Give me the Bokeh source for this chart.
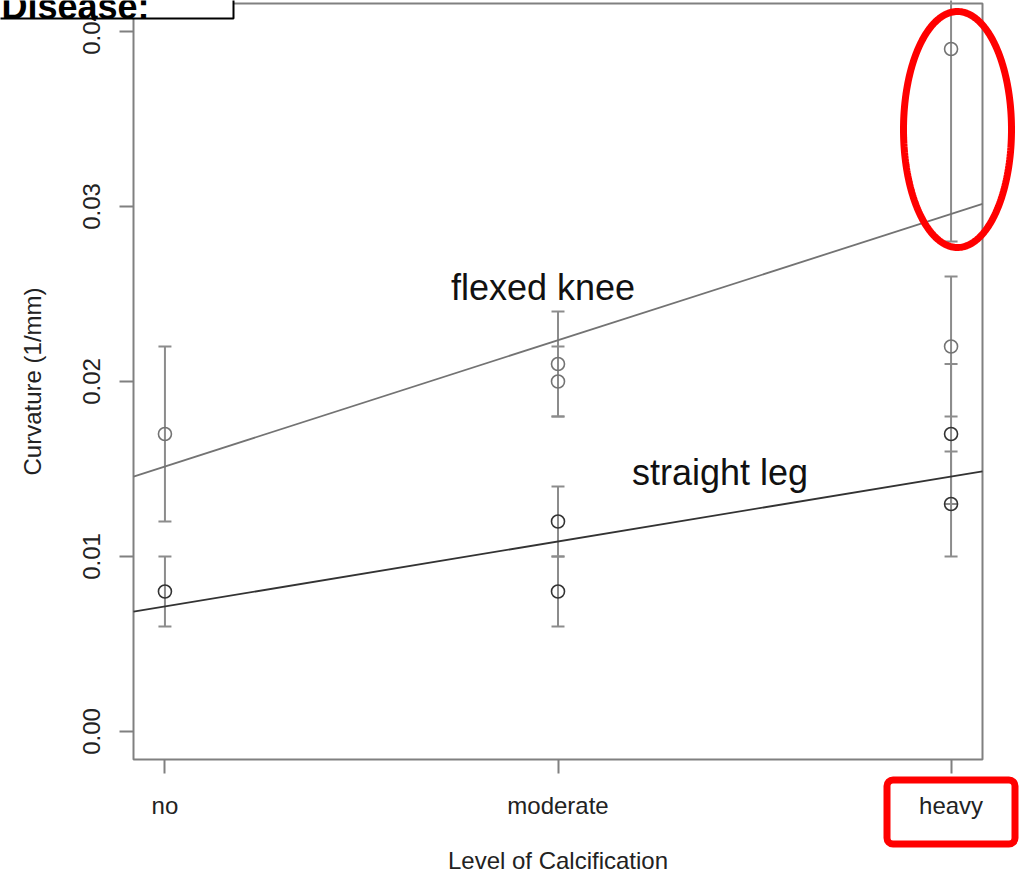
import numpy as np
from bokeh.plotting import figure
from bokeh.models import (Range1d, FixedTicker, PrintfTickFormatter, Label,
                          BoxAnnotation, PolyAnnotation, LinearAxis)
from bokeh.embed import file_html
from bokeh.resources import INLINE

# ---------------- data ----------------
categories = ["no", "moderate", "heavy"]
cat_pos = [1, 2, 3]

flexed_x = [1, 2, 2, 3, 3]
flexed_y = [0.017, 0.021, 0.020, 0.039, 0.022]
flexed_lo = [0.012, 0.018, 0.018, 0.028, 0.018]
flexed_hi = [0.022, 0.024, 0.022, 0.050, 0.026]

straight_x = [1, 2, 2, 3, 3]
straight_y = [0.008, 0.012, 0.008, 0.017, 0.013]
straight_lo = [0.006, 0.010, 0.006, 0.013, 0.010]
straight_hi = [0.010, 0.014, 0.010, 0.021, 0.016]

y_ticks = [0.00, 0.01, 0.02, 0.03, 0.04]
y_lim = (0.0, 0.040)
x_lim = (1, 3)

# ---------------- styles ----------------
FONT = "Liberation Sans"
GRAY_BAR = "#8c8c8c"
GRAY_FLEX = "#737373"
DARK_STR = "#333333"
BOX_GRAY = "#808080"
TXT = "#222222"
W, H = 1019, 873
BOX_LEFT, BOX_RIGHT, BOX_TOP, BOX_BOTTOM = 133, 982, 3, 759   # plot box in canvas px

# R-style 4% range extension -> the plot box's data limits
def ext(lo, hi, f=0.04):
    d = (hi - lo) * f
    return lo - d, hi + d

bx0, bx1 = ext(*x_lim)
by0, by1 = ext(*y_lim)
# data per pixel, so the whole canvas becomes the drawing frame
sx = (bx1 - bx0) / (BOX_RIGHT - BOX_LEFT)
sy = (by1 - by0) / (BOX_BOTTOM - BOX_TOP)
cx0 = bx0 - BOX_LEFT * sx
cx1 = bx1 + (W - BOX_RIGHT) * sx
cy1 = by1 + BOX_TOP * sy
cy0 = by0 - (H - BOX_BOTTOM) * sy

p = figure(width=W, height=H, output_backend="svg", toolbar_location=None,
           x_range=Range1d(cx0, cx1), y_range=Range1d(cy0, cy1),
           x_axis_location=None, y_axis_location=None,
           min_border=0, min_border_left=0, min_border_right=0,
           min_border_top=0, min_border_bottom=0)
p.background_fill_color = "white"
p.border_fill_color = "white"
p.outline_line_color = None
p.xgrid.visible = False
p.ygrid.visible = False

# axes at the edges of the plot box
xaxis = LinearAxis(fixed_location=by0, bounds=(bx0, bx1), ticker=FixedTicker(ticks=cat_pos),
                   major_label_overrides={pos: lab for pos, lab in zip(cat_pos, categories)},
                   axis_label="Level of Calcification")
yaxis = LinearAxis(fixed_location=bx0, bounds=(by0, by1), ticker=FixedTicker(ticks=y_ticks),
                   formatter=PrintfTickFormatter(format="%.2f"),
                   major_label_orientation="vertical",
                   axis_label="Curvature (1/mm)")
for ax in (xaxis, yaxis):
    ax.axis_line_color = None
    ax.major_tick_line_color = BOX_GRAY
    ax.major_tick_line_width = 2
    ax.major_tick_out = 14
    ax.major_tick_in = 0
    ax.minor_tick_line_color = None
    ax.major_label_text_font = FONT
    ax.major_label_text_font_size = "24px"
    ax.major_label_text_color = TXT
    ax.axis_label_text_font = FONT
    ax.axis_label_text_font_size = "24px"
    ax.axis_label_text_font_style = "normal"
    ax.axis_label_text_color = TXT
xaxis.major_label_standoff = 18
xaxis.axis_label_standoff = 25
yaxis.major_label_standoff = 20
yaxis.axis_label_standoff = 34
p.add_layout(xaxis, "below")
p.add_layout(yaxis, "left")

# plot box
p.add_layout(BoxAnnotation(left=bx0, right=bx1, bottom=by0, top=by1, fill_alpha=0,
                           line_color=BOX_GRAY, line_alpha=1, line_width=2, level="underlay"))

# error bars
for xs, lo, hi in ((flexed_x, flexed_lo, flexed_hi), (straight_x, straight_lo, straight_hi)):
    p.segment(x0=xs, y0=lo, x1=xs, y1=hi, line_color=GRAY_BAR, line_width=2)
    p.scatter(x=xs, y=lo, marker="dash", size=13, line_color=GRAY_BAR, line_width=2)
    p.scatter(x=xs, y=hi, marker="dash", size=13, line_color=GRAY_BAR, line_width=2)

# points
p.scatter(x=flexed_x, y=flexed_y, marker="circle", size=13, fill_color=None,
          line_color=GRAY_FLEX, line_width=1.6)
p.scatter(x=straight_x, y=straight_y, marker="circle", size=13, fill_color=None,
          line_color=DARK_STR, line_width=1.6)

# least-squares lines across the plot box (like R's abline)
for xs, ys, col in ((flexed_x, flexed_y, GRAY_FLEX), (straight_x, straight_y, DARK_STR)):
    m, b = np.polyfit(xs, ys, 1)
    ends = np.array([bx0, bx1])
    p.line(x=ends, y=m * ends + b, line_color=col, line_width=1.8)

# line labels
p.add_layout(Label(x=1.962, y=0.0254, text="flexed knee", text_align="center",
                   text_baseline="alphabetic", text_font=FONT, text_font_size="36px",
                   text_color="#111111"))
p.add_layout(Label(x=2.412, y=0.0148, text="straight leg", text_align="center",
                   text_baseline="alphabetic", text_font=FONT, text_font_size="36px",
                   text_color="#111111"))

# red highlight ellipse around the heavy / flexed outlier (centre & semi-axes in px)
E_CX, E_CY, E_A, E_B = 957, 129, 54, 118
t = np.linspace(0, 2 * np.pi, 240)
ex = bx0 + (E_CX + E_A * np.cos(t) - BOX_LEFT) * sx
ey = by1 - (E_CY + E_B * np.sin(t) - BOX_TOP) * sy
p.add_layout(PolyAnnotation(xs=list(ex), ys=list(ey), line_color="#ff0000", line_alpha=1,
                            line_width=7, fill_alpha=0, level="overlay"))

# red box around the "heavy" tick label (px)
R_L, R_R, R_T, R_B = 886.5, 1014.5, 779.5, 843.5
p.add_layout(BoxAnnotation(left=bx0 + (R_L - BOX_LEFT) * sx, right=bx0 + (R_R - BOX_LEFT) * sx,
                           top=by1 - (R_T - BOX_TOP) * sy, bottom=by1 - (R_B - BOX_TOP) * sy,
                           line_color="#ff0000", line_alpha=1, line_width=7, fill_alpha=0,
                           border_radius=6, level="overlay"))

# cropped "Disease:" box at top-left (px)
D_R, D_B = 233, 18
p.add_layout(BoxAnnotation(left=cx0 - 5 * sx, right=bx0 + (D_R - BOX_LEFT) * sx,
                           top=cy1 + 5 * sy, bottom=by1 - (D_B - BOX_TOP) * sy,
                           fill_color="white", fill_alpha=1, line_color="black", line_alpha=1,
                           line_width=2, level="overlay"))
p.add_layout(Label(x=cx0 + 1 * sx, y=cy1 - 6 * sy, text="Disease:", text_align="left",
                   text_baseline="alphabetic", text_font=FONT, text_font_size="36px",
                   text_font_style="bold", text_color="black", level="overlay"))

open("out.html", "w").write(file_html(p, INLINE))
